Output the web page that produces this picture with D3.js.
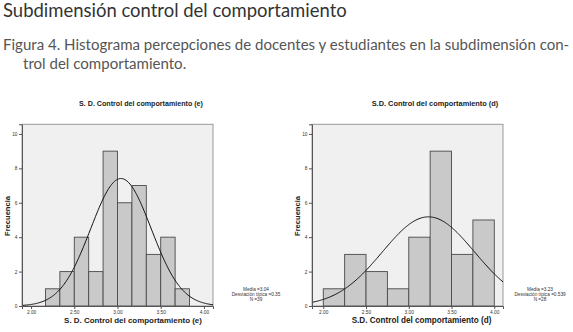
<!DOCTYPE html>
<html>
<head>
<meta charset="utf-8">
<script src="https://cdn.jsdelivr.net/npm/d3@7"></script>
<style>
  body { margin: 0; background: #fff; }
  svg { display: block; }
</style>
</head>
<body>
<svg id="chart" width="573" height="332"></svg>
<script>
// bins (lower edge) and counts
const binsE = [2.1667, 2.3333, 2.5, 2.6667, 2.8333, 3.0, 3.1667, 3.3333, 3.5, 3.6667];
const countsE = [1, 2, 4, 2, 9, 6, 7, 3, 4, 1];
const binsD = [2.0, 2.25, 2.5, 2.75, 3.0, 3.25, 3.5, 3.75];
const countsD = [1, 3, 2, 1, 4, 9, 3, 5];

const xTicks = [2.0, 2.5, 3.0, 3.5, 4.0];
const yTicks = [0, 2, 4, 6, 8, 10];

const statsE = ['Media =3.04', 'Desviación típica =0.35', 'N =39'];
const statsD = ['Media =3.23', 'Desviación típica =0.539', 'N =28'];

const svg = d3.select('#chart');

// fit a text element's font size to a target width
const fit = (sel, w) => {
  const len = sel.node().getComputedTextLength();
  const fs = parseFloat(sel.attr('font-size'));
  sel.attr('font-size', fs * w / len);
  return sel;
}

// page heading and caption
fit(svg.append('text')
  .attr('x', 3).attr('y', 17)
  .attr('font-family', 'Lato, "Open Sans", sans-serif')
  .attr('font-size', 20)
  .attr('fill', '#333')
  .text('Subdimensión control del comportamiento'), 344)

const cap1 = fit(svg.append('text')
  .attr('x', 3).attr('y', 50)
  .attr('font-family', 'Lato, "Open Sans", sans-serif')
  .attr('font-size', 15)
  .attr('fill', '#555')
  .text('Figura 4. Histograma percepciones de docentes y estudiantes en la subdimensión con-'), 567)

svg.append('text')
  .attr('x', 23).attr('y', 68.5)
  .attr('font-family', 'Lato, "Open Sans", sans-serif')
  .attr('font-size', cap1.attr('font-size'))
  .attr('fill', '#555')
  .text('trol del comportamiento.')

const drawHist = (opt) => {

  const x = d3.scaleLinear().domain(opt.xDomain).range([opt.left, opt.right]);
  const y = d3.scaleLinear().domain([0, 10.56]).range([306, 124.3]);

  const g = svg.append('g');
  const font = '"Liberation Sans", Arial, sans-serif';

  g.append('rect')
    .attr('x', opt.left).attr('y', y(10.56))
    .attr('width', opt.right - opt.left)
    .attr('height', y(0) - y(10.56))
    .attr('fill', '#f0f0f0')
    .attr('stroke', '#9a9a9a')
    .attr('stroke-width', 1);

  g.selectAll('.bar')
    .data(opt.bins)
    .enter()
    .append('rect')
    .attr('class', 'bar')
    .attr('x', d => x(d))
    .attr('width', x(opt.bins[0] + opt.bw) - x(opt.bins[0]))
    .attr('y', (d, i) => y(opt.counts[i]))
    .attr('height', (d, i) => y(0) - y(opt.counts[i]))
    .attr('fill', '#c9c9c9')
    .attr('stroke', '#4a4a4a')
    .attr('stroke-width', 0.9);

  // fitted normal curve from the reported mean / sd / N
  const n = d3.sum(opt.counts);
  const pts = d3.range(0, 201).map(i => {
    const v = opt.xDomain[0] + (opt.xDomain[1] - opt.xDomain[0]) * i / 200;
    const z = (v - opt.mean) / opt.sd;
    return [v, n * opt.bw * Math.exp(-0.5 * z * z) / (opt.sd * Math.sqrt(2 * Math.PI))];
  });

  g.append('path')
    .datum(pts)
    .attr('d', d3.line().x(d => x(d[0])).y(d => y(d[1])))
    .attr('fill', 'none')
    .attr('stroke', '#111')
    .attr('stroke-width', 1);

  // axes
  const xAxis = g.append('g')
    .attr('transform', 'translate(0,' + y(0) + ')')
    .call(d3.axisBottom(x).tickValues(xTicks).tickFormat(d3.format('.2f')).tickSize(3).tickPadding(1.2));

  const yAxis = g.append('g')
    .attr('transform', 'translate(' + opt.left + ',0)')
    .call(d3.axisLeft(y).tickValues(yTicks).tickSize(3).tickPadding(1.5));

  [xAxis, yAxis].forEach(a => {
    a.select('.domain').attr('stroke', '#555');
    a.selectAll('.tick line').attr('stroke', '#555');
    a.selectAll('.tick text')
      .attr('font-family', font)
      .attr('font-size', 4.8)
      .attr('fill', '#333');
  });

  fit(g.append('text')
    .attr('x', opt.titleX).attr('y', 106)
    .attr('text-anchor', 'middle')
    .attr('font-family', font)
    .attr('font-weight', 'bold')
    .attr('font-size', 7)
    .attr('fill', '#222')
    .text(opt.title), opt.titleW)

  fit(g.append('text')
    .attr('x', opt.labelX).attr('y', 322.5)
    .attr('text-anchor', 'middle')
    .attr('font-family', font)
    .attr('font-weight', 'bold')
    .attr('font-size', 8)
    .attr('fill', '#222')
    .text(opt.title), opt.labelW)

  fit(g.append('text')
    .attr('transform', 'translate(' + opt.yLabelX + ',216) rotate(-90)')
    .attr('text-anchor', 'middle')
    .attr('font-family', font)
    .attr('font-weight', 'bold')
    .attr('font-size', 7)
    .attr('fill', '#222')
    .text('Frecuencia'), 40)

  g.selectAll('.stat')
    .data(opt.stats)
    .enter()
    .append('text')
    .attr('class', 'stat')
    .attr('x', opt.statX)
    .attr('y', (d, i) => 291 + i * 5)
    .attr('text-anchor', 'middle')
    .attr('font-family', font)
    .attr('font-size', 4.7)
    .attr('fill', '#333')
    .text(d => d);
}

drawHist({
  bins: binsE, counts: countsE, bw: 1 / 6, mean: 3.04, sd: 0.35,
  xDomain: [1.895, 4.105], left: 22, right: 213,
  title: 'S. D. Control del comportamiento (e)', titleX: 141, titleW: 124,
  labelX: 133, labelW: 138, yLabelX: 9.5, statX: 256, stats: statsE
})

drawHist({
  bins: binsD, counts: countsD, bw: 0.25, mean: 3.23, sd: 0.539,
  xDomain: [1.868, 4.102], left: 312, right: 503,
  title: 'S.D. Control del comportamiento (d)', titleX: 435, titleW: 127,
  labelX: 421.5, labelW: 140, yLabelX: 299.5, statX: 540, stats: statsD
})
</script>
</body>
</html>
